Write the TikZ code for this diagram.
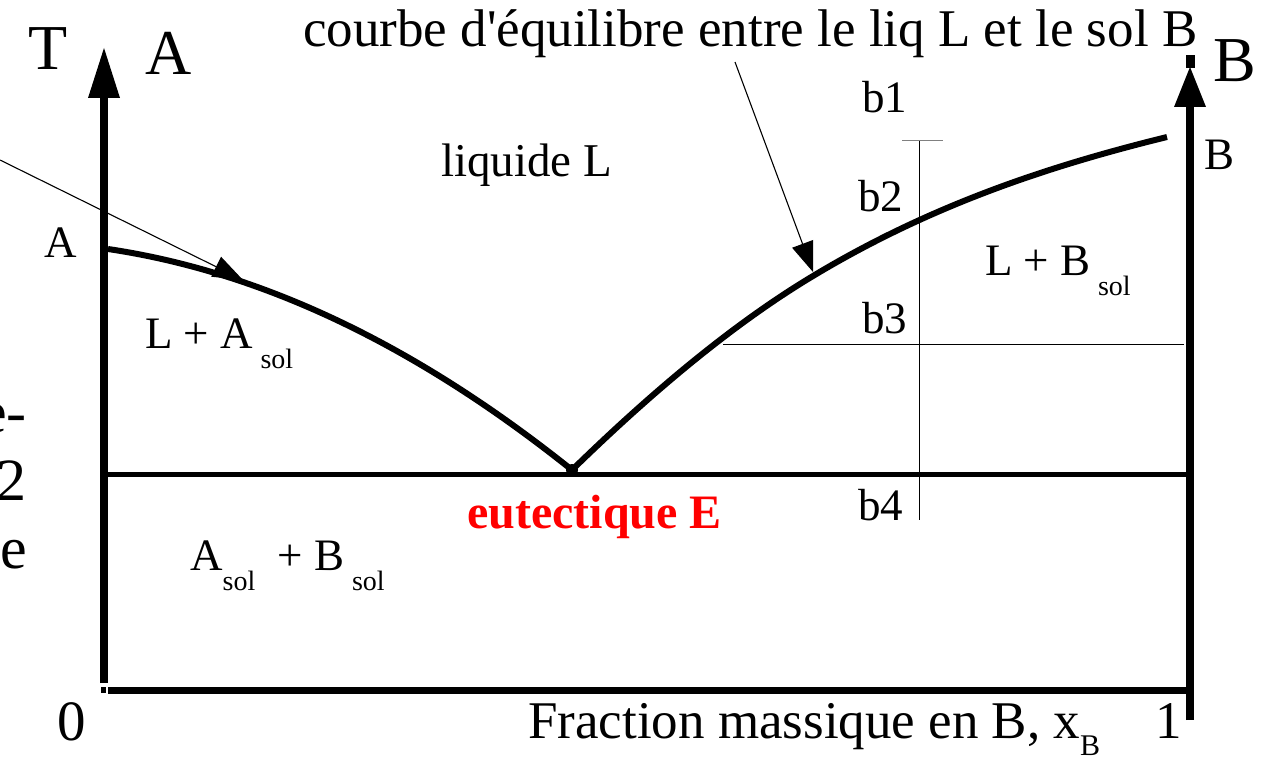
\documentclass[tikz,border=0pt]{standalone}
\usepackage{fontspec}
\setmainfont{Liberation Serif}
\usetikzlibrary{arrows.meta}
\newcommand\myfs[1]{\fontsize{#1}{#1}\selectfont}
\newcommand\mysub[1]{\raisebox{-20pt}{\myfs{28}#1}}
\definecolor{eured}{RGB}{255,0,0}
\begin{document}
\begin{tikzpicture}[x=1pt,y=-1pt,
  lbl/.style={anchor=base west, inner sep=0pt, font=\myfs{45}},
  big/.style={anchor=base west, inner sep=0pt, font=\myfs{64}},
  frag/.style={anchor=base east, inner sep=0pt, font=\myfs{60}},
  axis/.style={line width=8pt},
  curve/.style={line width=6pt},
  thinl/.style={line width=1pt},
  annot/.style={line width=1.1pt, -{Triangle[length=30pt,width=22pt]}},
  axhead/.style={fill=black}]
\useasboundingbox (0,0) rectangle (1261,762);
\begin{scope}
\clip (0,0) rectangle (1261,762);
% coordinates
\coordinate (O) at (104,690);
\coordinate (Ltop) at (104,95);
\coordinate (Ltip) at (104,48);
\coordinate (Rbot) at (1190,720);
\coordinate (Rtop) at (1190,105);
\coordinate (Rtip) at (1190,67);
\coordinate (Xend) at (1186,690);
\coordinate (E) at (572,470);
\coordinate (Eleft) at (104,474);
\coordinate (Eright) at (1190,474);
\coordinate (Apt) at (108,249);
\coordinate (Bpt) at (1167,137);
\coordinate (M) at (813,276);
\coordinate (v1) at (919,141);
\coordinate (v2) at (919,520);
\coordinate (t1) at (902,141);
\coordinate (t2) at (943,141);
\coordinate (h1) at (723,344);
\coordinate (h2) at (1184,344);
\coordinate (la0) at (0,160);
\coordinate (la1) at (243,280);
\coordinate (ta0) at (735,62);
\coordinate (ta1) at (813,272);

% axes
\draw[axis] (104,683) -- (Ltop);
\fill[axhead] (Ltip) -- (88,98) -- (120,98) -- cycle;
\fill (101,687) rectangle (106,693);
\draw[axis] (Rbot) -- (Rtop);
\fill[axhead] (Rtip) -- (1174,107) -- (1206,107) -- cycle;
\fill (1186,55) rectangle (1195,68);
\draw[line width=7pt] (108,690) -- (Xend);

% eutectic line
\draw[line width=5pt] (Eleft) -- (Eright);

% liquidus curves
\draw[curve] (Apt) .. controls (263,272) and (417,346) .. (E);
\draw[curve] (E) .. controls (652,392) and (733,324) .. (M)
                 .. controls (931,205) and (1049,166) .. (Bpt);
\fill (E) circle (6pt);

% thin lines b
\draw[thinl] (v1) -- (v2);
\draw[thinl, gray] (t1) -- (t2);
\draw[thinl] (h1) -- (h2);

% annotations
\draw[annot] (la0) -- (la1);
\draw[annot] (ta0) -- (ta1);

% labels
\node[big] (T) at (28,70) {T};
\node[big] (Atop) at (145,75) {A};
\node[big] (Btop) at (1213,82) {B};
\node[lbl, font=\myfs{53}] (courbe) at (303,47) {courbe d\textquotesingle équilibre entre le liq L et le sol B};
\node[lbl] (b1) at (862,113) {b1};
\node[lbl] (b2) at (858,212) {b2};
\node[lbl] (b3) at (862,333) {b3};
\node[lbl] (b4) at (858,520) {b4};
\node[lbl, font=\myfs{47}] (liq) at (441,177) {liquide L};
\node[lbl] (Aleft) at (44,258) {A};
\node[lbl] (Bright) at (1204,170) {B};
\node[lbl] (LA) at (145,348) {L + A\,\mysub{sol}};
\node[lbl] (LB) at (985,276) {L + B\,\mysub{sol}};
\node[lbl] (AB) at (190,570) {A\mysub{sol}\enspace+ B\,\mysub{sol}};
\node[lbl, text=eured, font=\myfs{48}\bfseries] (eut) at (467,528) {eutectique E};
\node[big, font=\myfs{57}] (zero) at (57,740) {0};
\node[lbl, font=\myfs{53}] (frac) at (528,738) {Fraction massique en B, x\raisebox{-17pt}{\myfs{30}B}};
\node[big, font=\myfs{53}] (one) at (1155,738) {1};
\node[frag] (f1) at (27,432) {e-};
\node[frag] (f2) at (27,500) {2};
\node[frag] (f3) at (27,568) {e};
\end{scope}
\end{tikzpicture}
\end{document}
